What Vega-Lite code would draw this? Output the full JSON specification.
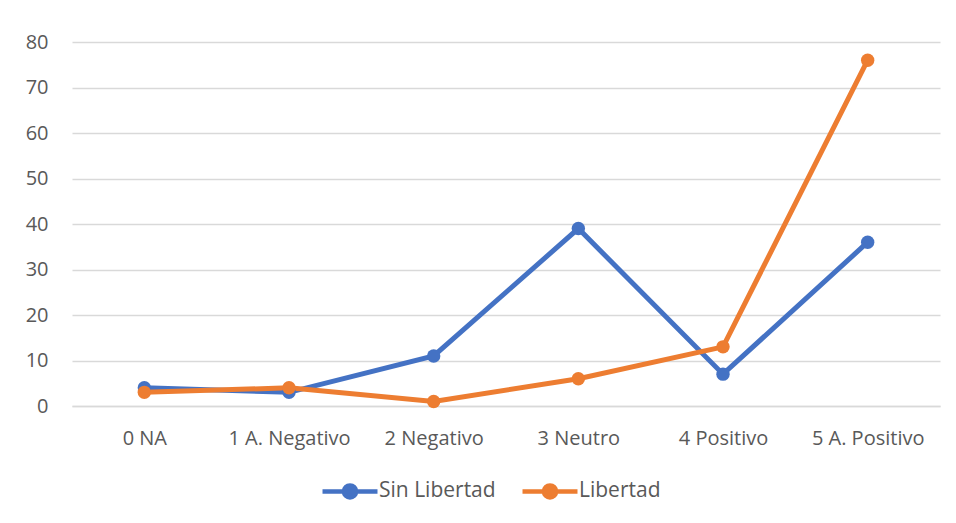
{
  "$schema": "https://vega.github.io/schema/vega-lite/v6.json",
  "autosize": {"type": "none"},
  "width": 868,
  "height": 364,
  "padding": {"left": 72, "top": 42, "right": 16, "bottom": 117},
  "background": "white",
  "config": {
    "view": {"stroke": null},
    "font": "Open Sans",
    "axis": {"labelColor": "#595959", "labelFont": "Open Sans", "gridColor": "#D9D9D9", "gridWidth": 1.5, "ticks": false, "domain": false}
  },
  "data": {
    "values": [
      {"cat": "0 NA", "serie": "Sin Libertad", "v": 4},
      {"cat": "1 A. Negativo", "serie": "Sin Libertad", "v": 3},
      {"cat": "2 Negativo", "serie": "Sin Libertad", "v": 11},
      {"cat": "3 Neutro", "serie": "Sin Libertad", "v": 39},
      {"cat": "4 Positivo", "serie": "Sin Libertad", "v": 7},
      {"cat": "5 A. Positivo", "serie": "Sin Libertad", "v": 36},
      {"cat": "0 NA", "serie": "Libertad", "v": 3},
      {"cat": "1 A. Negativo", "serie": "Libertad", "v": 4},
      {"cat": "2 Negativo", "serie": "Libertad", "v": 1},
      {"cat": "3 Neutro", "serie": "Libertad", "v": 6},
      {"cat": "4 Positivo", "serie": "Libertad", "v": 13},
      {"cat": "5 A. Positivo", "serie": "Libertad", "v": 76}
    ]
  },
  "encoding": {
    "x": {
      "field": "cat", "type": "nominal", "title": null, "sort": null,
      "scale": {"paddingInner": 0, "paddingOuter": 0},
      "axis": {"labelAngle": 0, "labelFontSize": 20, "labelPadding": 22, "grid": false, "domain": true, "domainColor": "#D9D9D9", "domainWidth": 1.5}
    },
    "y": {
      "field": "v", "type": "quantitative", "title": null,
      "scale": {"domain": [0, 80]},
      "axis": {"values": [0, 10, 20, 30, 40, 50, 60, 70, 80], "labelFontSize": 20, "labelPadding": 24}
    },
    "color": {
      "field": "serie", "type": "nominal", "title": null,
      "scale": {"domain": ["Sin Libertad", "Libertad"], "range": ["#4472C4", "#ED7D31"]},
      "legend": {
        "orient": "none", "direction": "horizontal", "legendX": 262, "legendY": 433,
        "symbolType": "M-2,0H2M-0.44,0A0.44,0.44 0 1,1 0.44,0A0.44,0.44 0 1,1 -0.44,0",
        "symbolSize": 756, "symbolStrokeWidth": 4.5, "labelOffset": 13,
        "labelFontSize": 21, "labelColor": "#595959", "columnPadding": 17, "padding": 0,
        "encode": {"symbols": {"update": {"stroke": {"scale": "color", "field": "value"}, "fill": {"scale": "color", "field": "value"}, "opacity": {"value": 1}}}}
      }
    },
    "order": {"field": "serie", "sort": "descending"}
  },
  "layer": [
    {"mark": {"type": "line", "strokeWidth": 5}, "encoding": {"detail": {"field": "serie"}}},
    {"mark": {"type": "point", "filled": true, "size": 180, "opacity": 1}}
  ]
}
